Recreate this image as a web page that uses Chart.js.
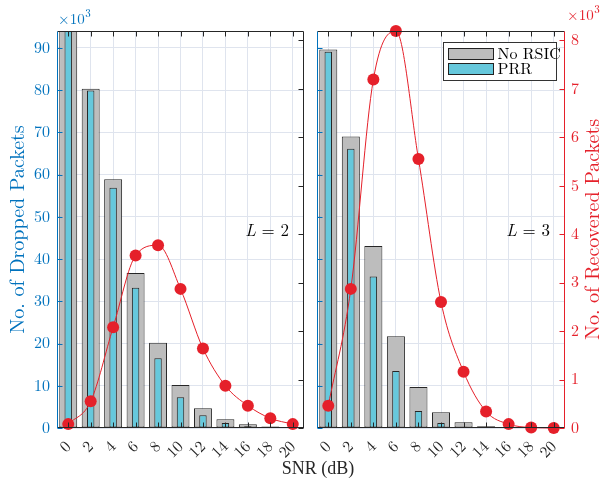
<!DOCTYPE html>
<html>
<head>
<meta charset="utf-8">
<script src="https://cdn.jsdelivr.net/npm/chart.js@4.4.1/dist/chart.umd.min.js"></script>
<style>
  body { margin: 0; background: #fff; }
  #wrap { position: relative; width: 603px; height: 485px; }
  canvas { position: absolute; top: 0; }
  #xTitle { position: absolute; left: 318px; top: 458px; transform: translateX(-50%);
            font: 18px 'Liberation Serif', serif; color: #262626; line-height: 20px; white-space: nowrap; }
</style>
</head>
<body>
<div id="wrap">
  <canvas id="leftChart" width="310" height="485" style="left:0"></canvas>
  <canvas id="rightChart" width="293" height="485" style="left:310px"></canvas>
  <div id="xTitle">SNR (dB)</div>
</div>
<script>
// values in thousands (axes show x10^3)
const snr = ['0', '2', '4', '6', '8', '10', '12', '14', '16', '18', '20'];

const droppedNoRsicL2 = [99, 80.3, 58.9, 36.7, 20.2, 10.2, 4.7, 2.1, 0.9, 0.35, 0.1];
const droppedPrrL2    = [97, 79.9, 56.9, 33.2, 16.5, 7.3, 3.0, 1.2, 0.4, 0.15, 0.05];
const recoveredL2     = [0.08, 0.55, 2.08, 3.56, 3.77, 2.87, 1.64, 0.87, 0.46, 0.2, 0.08];

const droppedNoRsicL3 = [89.6, 69.0, 43.1, 21.7, 9.7, 3.7, 1.35, 0.4, 0.12, 0.05, 0.03];
const droppedPrrL3    = [89.1, 66.1, 35.9, 13.5, 4.0, 1.2, 0.3, 0.15, 0.05, 0.02, 0.01];
const recoveredL3     = [0.46, 2.87, 7.19, 8.19, 5.55, 2.60, 1.16, 0.34, 0.08, 0.01, 0.0];

const droppedTicks = [0, 10, 20, 30, 40, 50, 60, 70, 80, 90];
const recoveredTicks = [0, 1, 2, 3, 4, 5, 6, 7, 8];

const blue = '#0072BD';
const red = '#e5202a';
const dark = '#262626';
const gridColor = '#dfe4ee';
const serif = "'Latin Modern Roman', 'CMU Serif', 'Liberation Serif', serif";

Chart.defaults.font.family = serif;
Chart.defaults.font.size = 16;

function seg(ctx, x1, y1, x2, y2) {
    ctx.beginPath();
    ctx.moveTo(x1, y1);
    ctx.lineTo(x2, y2);
    ctx.stroke();
}

// matlab style box with inward ticks, titles, multiplier and L label
const decorations = {
    id: 'decorations',
    afterDraw(chart, args, o) {
        const ctx = chart.ctx;
        const a = chart.chartArea;
        const s = chart.scales;
        const L = Math.round(a.left) + 0.5, R = Math.round(a.right) - 0.5;
        const T = Math.round(a.top) + 0.5, B = Math.round(a.bottom) - 0.5;
        ctx.save();
        ctx.lineWidth = 1;

        ctx.strokeStyle = dark;
        seg(ctx, L, T, R, T);
        seg(ctx, L, B, R, B);
        snr.forEach((v, i) => {
            const x = Math.round(s.x.getPixelForValue(i)) + 0.5;
            seg(ctx, x, T, x, T + 5);
            seg(ctx, x, B, x, B - 5);
        });

        ctx.strokeStyle = blue;
        seg(ctx, L, T, L, B + 0.5);
        droppedTicks.forEach(v => {
            const y = Math.round(s.y.getPixelForValue(v)) + 0.5;
            seg(ctx, L, y, L + 5, y);
        });

        ctx.strokeStyle = o.rightColor;
        seg(ctx, R, T, R, B + 0.5);
        recoveredTicks.forEach(v => {
            const y = Math.round(s.y1.getPixelForValue(v)) + 0.5;
            seg(ctx, R, y, R - 5, y);
        });

        // rotated axis title
        ctx.save();
        ctx.translate(o.titleX, (a.top + a.bottom) / 2);
        ctx.rotate(-Math.PI / 2);
        ctx.fillStyle = o.titleColor;
        ctx.font = '20px ' + serif;
        ctx.textAlign = 'center';
        ctx.textBaseline = 'middle';
        ctx.fillText(o.title, 0, 0);
        ctx.restore();

        // x10^3
        ctx.fillStyle = o.titleColor;
        ctx.textAlign = 'left';
        ctx.textBaseline = 'alphabetic';
        ctx.font = '15px ' + serif;
        ctx.fillText('\u00d710', o.expX, o.expY);
        const w = ctx.measureText('\u00d710').width;
        ctx.font = '11px ' + serif;
        ctx.fillText('3', o.expX + w + 0.5, o.expY - 7);

        // L = n
        ctx.fillStyle = '#000';
        ctx.textAlign = 'right';
        ctx.font = '17px ' + serif;
        const rest = ' = ' + o.L;
        ctx.fillText(rest, a.right - 15, a.top + 205);
        const rw = ctx.measureText(rest).width;
        ctx.font = 'italic 17px ' + serif;
        ctx.fillText('L', a.right - 15 - rw, a.top + 205);

        // legend
        if (o.legend) {
            const bx = Math.round(a.right) - 122 + 0.5, by = Math.round(a.top) + 11.5;
            ctx.fillStyle = '#fff';
            ctx.fillRect(bx, by, 113, 38);
            ctx.strokeStyle = '#333';
            ctx.strokeRect(bx, by, 113, 38);
            [chart.data.datasets[1], chart.data.datasets[2]].forEach((d, i) => {
                const y = by + 6 + i * 15;
                ctx.fillStyle = d.backgroundColor;
                ctx.fillRect(bx + 5, y, 45, 11);
                ctx.strokeStyle = '#222';
                ctx.strokeRect(bx + 5, y, 45, 11);
                ctx.fillStyle = '#000';
                ctx.textAlign = 'left';
                ctx.textBaseline = 'middle';
                ctx.font = '16px ' + serif;
                ctx.fillText(d.label, bx + 54, y + 6);
            });
        }
        ctx.restore();
    }
};

function makePanel(id, noRsic, prr, recovered, side) {
    const ctx = document.getElementById(id).getContext('2d');
    const left = side === 'left';
    return new Chart(ctx, {
        type: 'bar',
        data: {
            labels: snr,
            datasets: [{
                type: 'line',
                label: 'Recovered',
                data: recovered,
                yAxisID: 'y1',
                borderColor: red,
                backgroundColor: red,
                borderWidth: 1,
                pointRadius: 6,
                pointBorderWidth: 0,
                cubicInterpolationMode: 'monotone',
                clip: false,
                order: 0
            }, {
                label: 'No RSIC',
                data: noRsic,
                yAxisID: 'y',
                backgroundColor: '#bdbdbd',
                borderColor: dark,
                borderWidth: 1,
                borderSkipped: false,
                barPercentage: 0.8,
                categoryPercentage: 1,
                grouped: false,
                order: 2
            }, {
                label: 'PRR',
                data: prr,
                yAxisID: 'y',
                backgroundColor: '#66c8dc',
                borderColor: dark,
                borderWidth: 1,
                borderSkipped: false,
                barPercentage: 0.33,
                categoryPercentage: 1,
                grouped: false,
                order: 1
            }]
        },
        options: {
            responsive: false,
            animation: false,
            layout: { padding: left ? { top: 31, right: 5 } : { top: 31 } },
            plugins: {
                legend: { display: false },
                tooltip: { enabled: false },
                decorations: {
                    rightColor: left ? dark : red,
                    title: left ? 'No. of Dropped Packets' : 'No. of Recovered Packets',
                    titleColor: left ? blue : red,
                    titleX: left ? 18 : 283,
                    expX: left ? 58 : 257,
                    expY: left ? 24 : 20,
                    L: left ? 2 : 3,
                    legend: !left
                }
            },
            scales: {
                x: {
                    offset: true,
                    grid: { color: gridColor, offset: false, drawTicks: false },
                    border: { display: false },
                    ticks: { autoSkip: false, minRotation: 45, maxRotation: 45, color: dark, padding: 9 },
                    afterFit: s => { s.height = 57; s.paddingLeft = 0; s.paddingRight = 0; }
                },
                y: {
                    min: 0,
                    max: 94,
                    ticks: { stepSize: 10, includeBounds: false, color: blue, padding: 7, display: left },
                    grid: { color: gridColor, drawTicks: false },
                    border: { display: false },
                    afterFit: s => { s.width = left ? 57 : 7; }
                },
                y1: {
                    position: 'right',
                    display: !left,
                    min: 0,
                    max: 8.19,
                    ticks: { stepSize: 1, includeBounds: false, color: red, padding: 6 },
                    grid: { display: false, drawTicks: false },
                    border: { display: false },
                    afterFit: s => { s.width = left ? 0 : 38; s.paddingTop = 0; s.paddingBottom = 0; }
                }
            }
        },
        plugins: [decorations]
    });
}

makePanel('leftChart', droppedNoRsicL2, droppedPrrL2, recoveredL2, 'left');
makePanel('rightChart', droppedNoRsicL3, droppedPrrL3, recoveredL3, 'right');
</script>
</body>
</html>
